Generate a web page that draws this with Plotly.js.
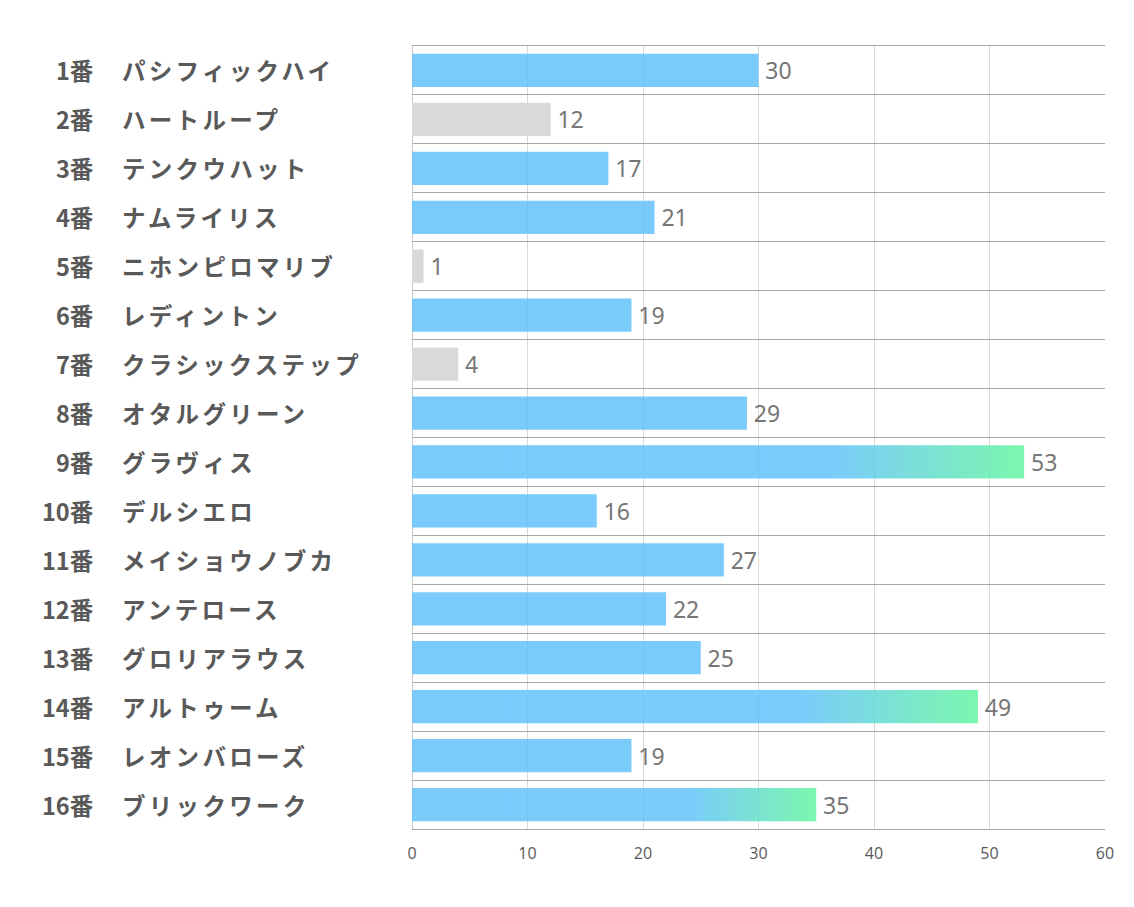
<!DOCTYPE html>
<html>
<head>
<meta charset="utf-8">
<script src="https://cdn.plot.ly/plotly-3.0.1.min.js"></script>
<style>
html,body{margin:0;padding:0;background:#fff;}
#chart{width:1134px;height:907px;}
</style>
</head>
<body>
<div id="chart"></div>
<script>
// ---- data ----
const numbers = ["1番","2番","3番","4番","5番","6番","7番","8番","9番","10番","11番","12番","13番","14番","15番","16番"];
const names = ["パシフィックハイ","ハートループ","テンクウハット","ナムライリス","ニホンピロマリブ","レディントン","クラシックステップ","オタルグリーン","グラヴィス","デルシエロ","メイショウノブカ","アンテロース","グロリアラウス","アルトゥーム","レオンバローズ","ブリックワーク"];
const values = [30,12,17,21,1,19,4,29,53,16,27,22,25,49,19,35];
const kinds = ["blue","gray","blue","blue","gray","blue","gray","blue","grad","blue","blue","blue","blue","grad","blue","grad"];
const xTicks = [0,10,20,30,40,50,60];

// ---- styles ----
const BLUE = "rgba(99,194,252,0.85)";
const GRAY = "rgba(217,217,217,1)";
const colors = kinds.map(k => k === "gray" ? GRAY : BLUE);

const trace = {
  type: "bar",
  orientation: "h",
  x: values,
  y: names,
  text: values.map(v => "\u2009" + v),
  textposition: "outside",
  cliponaxis: false,
  textfont: {family: "Noto Sans, Open Sans, sans-serif", size: 23, color: "#767676"},
  marker: {color: colors, line: {width: 0}},
  hoverinfo: "none"
};

const annotations = [];
names.forEach((n, i) => {
  annotations.push({
    xref: "paper", yref: "y", x: -0.456, y: n, xanchor: "right", yanchor: "middle",
    text: "<b>" + numbers[i] + "</b>", showarrow: false,
    font: {family: "Noto Sans CJK JP, sans-serif", size: 23.5, color: "#595959"}
  });
  annotations.push({
    xref: "paper", yref: "y", x: -0.422, y: n, xanchor: "left", yanchor: "middle",
    text: "<b>" + n + "</b>", showarrow: false,
    font: {family: "Noto Sans CJK JP, sans-serif", size: 23.5, color: "#595959"}
  });
});

const layout = {
  width: 1134, height: 907,
  margin: {l: 412, r: 29, t: 46, b: 78},
  paper_bgcolor: "#ffffff", plot_bgcolor: "#ffffff",
  showlegend: false,
  bargap: 0.32,
  xaxis: {
    range: [0, 60], tickvals: xTicks, ticktext: xTicks.map(String),
    showgrid: true, gridcolor: "#d9d9d9", gridwidth: 1,
    zeroline: true, zerolinecolor: "#c8c8c8", zerolinewidth: 1,
    showline: true, linecolor: "#a6a6a6", linewidth: 1, mirror: true,
    ticks: "", ticklabelstandoff: 10,
    tickfont: {family: "Open Sans, sans-serif", size: 16, color: "#595959"},
    fixedrange: true
  },
  yaxis: {
    type: "category", autorange: "reversed",
    showticklabels: false, ticks: "",
    tickson: "boundaries",
    showgrid: true, gridcolor: "#a6a6a6", gridwidth: 1,
    showline: false,
    zeroline: false, fixedrange: true
  },
  annotations: annotations
};

function applyStyling() {
  const svg = document.querySelector("#chart .main-svg");
  if (!svg) return;
  let defs = svg.querySelector("defs");
  if (!defs) { defs = document.createElementNS("http://www.w3.org/2000/svg", "defs"); svg.insertBefore(defs, svg.firstChild); }
  if (!document.getElementById("barGrad")) {
    const g = document.createElementNS("http://www.w3.org/2000/svg", "linearGradient");
    g.setAttribute("id", "barGrad");
    g.setAttribute("x1", "0"); g.setAttribute("y1", "0");
    g.setAttribute("x2", "1"); g.setAttribute("y2", "0");
    [["0", "rgb(99,194,252)"], ["0.68", "rgb(99,194,252)"], ["1", "rgb(100,245,160)"]].forEach(s => {
      const st = document.createElementNS("http://www.w3.org/2000/svg", "stop");
      st.setAttribute("offset", s[0]); st.setAttribute("stop-color", s[1]); st.setAttribute("stop-opacity", "0.85");
      g.appendChild(st);
    });
    defs.appendChild(g);
  }
  const paths = document.querySelectorAll("#chart .trace.bars .point path");
  paths.forEach((p, i) => {
    if (kinds[i] === "grad") { p.style.fill = "url(#barGrad)"; p.style.fillOpacity = "1"; }
  });
  // letter spacing for horse names, keeping their left edge fixed
  const anns = document.querySelectorAll("#chart .annotation-text");
  anns.forEach((t, i) => {
    if (i % 2 === 1) {
      const before = t.getBBox().x;
      t.style.letterSpacing = "3.3px";
      const after = t.getBBox().x;
      const dx = before - after;
      const x0 = parseFloat(t.getAttribute("x") || "0");
      t.setAttribute("x", x0 + dx);
    }
  });
}

Plotly.newPlot("chart", [trace], layout, {displayModeBar: false, staticPlot: true}).then(applyStyling);
</script>
</body>
</html>
